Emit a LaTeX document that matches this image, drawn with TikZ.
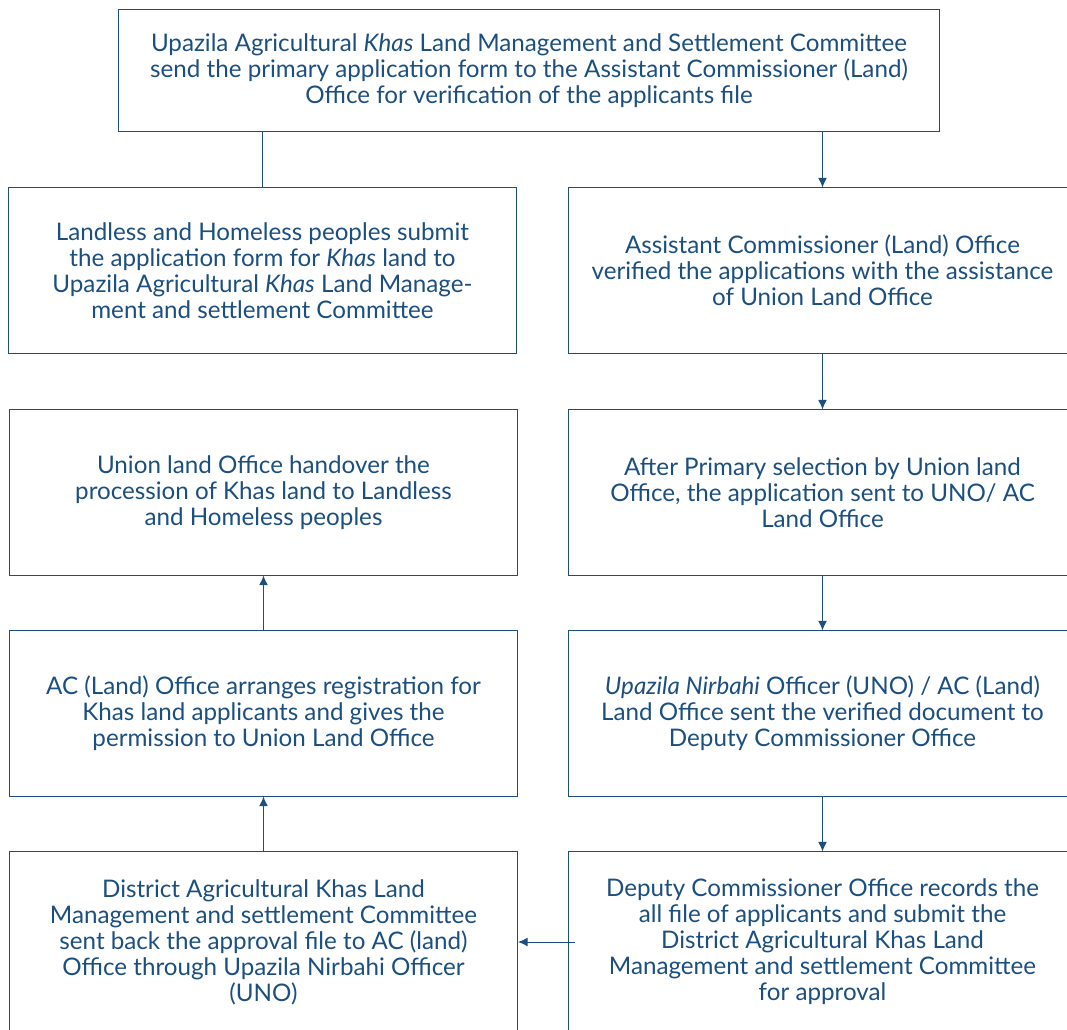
\documentclass[tikz,border=0pt]{standalone}
\usepackage{fontspec}
\setmainfont{Lato}
\usepackage{tikz}
\usetikzlibrary{arrows.meta}
\definecolor{dblue}{HTML}{1B4F80}

\begin{document}
\begin{tikzpicture}[x=0.025cm,y=-0.025cm,>={Latex[length=2.4mm,width=2.2mm]},
    conn/.style={draw=dblue,line width=0.7pt},
    box/.style={draw=dblue,line width=0.7pt,text=dblue,align=center,
      font=\fontsize{17.2}{18.5}\selectfont,inner sep=0pt,
      minimum width=12.7cm,minimum height=4.125cm}]

    \useasboundingbox (0,0) rectangle (1067,1030);

    \node (committee) [box,minimum width=20.5cm,minimum height=3.025cm] at (529,70.5)
    {Upazila Agricultural \textit{Khas} Land Management and Settlement Committee\\
     send the primary application form to the Assistant Commissioner (Land)\\
     Office for verification of the applicants file};

    \node (apply) [box] at (262.5,270.5)
    {Landless and Homeless peoples submit\\
     the application form for \textit{Khas} land to\\
     Upazila Agricultural \textit{Khas} Land Manage-\\
     ment and settlement Committee};

    \node (acverify) [box] at (822.5,270.5)
    {Assistant Commissioner (Land) Office\\
     verified the applications with the assistance\\
     of Union Land Office};

    \node (handover) [box] at (263.5,492.5)
    {Union land Office handover the\\
     procession of Khas land to Landless\\
     and Homeless peoples};

    \node (select) [box] at (822.5,492.5)
    {After Primary selection by Union land\\
     Office, the application sent to UNO/ AC\\
     Land Office};

    \node (register) [box] at (263.5,713.5)
    {AC (Land) Office arranges registration for\\
     Khas land applicants and gives the\\
     permission to Union Land Office};

    \node (unosend) [box] at (822.5,713.5)
    {\textit{Upazila Nirbahi} Officer (UNO) / AC (Land)\\
     Land Office sent the verified document to\\
     Deputy Commissioner Office};

    \node (approval) [box,minimum height=4.5cm] at (263.5,942)
    {District Agricultural Khas Land\\
     Management and settlement Committee\\
     sent back the approval file to AC (land)\\
     Office through Upazila Nirbahi Officer\\
     (UNO)};

    \node (dcrecord) [box,minimum height=4.5cm] at (822.5,942)
    {Deputy Commissioner Office records the\\
     all file of applicants and submit the\\
     District Agricultural Khas Land\\
     Management and settlement Committee\\
     for approval};

    \draw[conn] (apply.north) -- (apply.north |- committee.south);
    \draw[conn,->] (committee.south -| acverify) -- (acverify.north);
    \draw[conn,->] (acverify.south) -- (select.north);
    \draw[conn,->] (select.south) -- (unosend.north);
    \draw[conn,->] (unosend.south) -- (dcrecord.north);
    \draw[conn,->] ([xshift=5]dcrecord.west) -- (approval.east);
    \draw[conn,->] (approval.north) -- (register.south);
    \draw[conn,->] (register.north) -- (handover.south);
  \end{tikzpicture}
\end{document}
